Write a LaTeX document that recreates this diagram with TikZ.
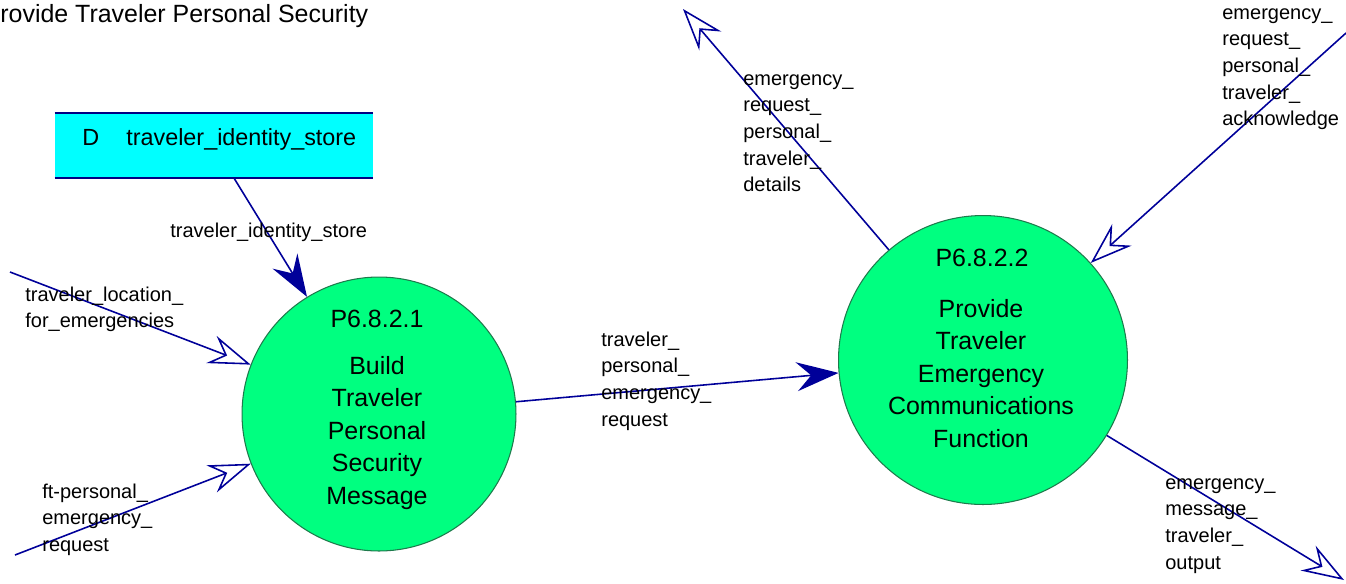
\documentclass[tikz,border=0pt]{standalone}
\usepackage{fontspec}
\setmainfont{Liberation Sans}
\usetikzlibrary{arrows.meta}
\definecolor{flowblue}{HTML}{000099}
\definecolor{procgreen}{HTML}{00FF80}
\definecolor{procedge}{HTML}{1E7A4C}
\definecolor{storecyan}{HTML}{00FFFF}
\newcommand{\bubblefont}{\fontsize{14.2pt}{18.55pt}\selectfont}
\newcommand{\flowfont}{\fontsize{11.38pt}{15.19pt}\selectfont}

\begin{document}
\begin{tikzpicture}[x=0.02cm, y=-0.02cm,
  proc/.style={circle, draw=procedge, fill=procgreen, line width=0.6pt, inner sep=0pt},
  procid/.style={anchor=base, inner sep=0pt, font=\bubblefont},
  proctext/.style={anchor=north, align=center, inner sep=0pt, font=\bubblefont},
  store/.style={fill=storecyan, minimum width=6.36cm, minimum height=1.3cm, inner sep=0pt},
  storeline/.style={draw=flowblue!85!black, line width=1pt},
  storetext/.style={anchor=base west, inner sep=0pt, font=\fontsize{13.3pt}{16pt}\selectfont},
  flowlabel/.style={anchor=north west, align=left, inner sep=0pt, font=\flowfont},
  flow/.style={flowblue, line width=0.9pt},
  openflow/.style={flow, -{Stealth[open, length=8.4mm, width=5.8mm, inset=2.9mm]}},
  >={Stealth[length=8.4mm, width=5.8mm, inset=2.9mm]}
]
\useasboundingbox (0,0) rectangle (1346,583);

\node[anchor=base west, inner sep=0pt, font=\bubblefont] (title) at (0,22) {rovide Traveler Personal Security};

\node[store] (store) at (214,145.5) {};
\draw[storeline] (store.north west) -- (store.north east);
\draw[storeline] (store.south west) -- (store.south east);
\node[storetext] (storeid) at (82,145) {D};
\node[storetext] (storename) at (126,145) {traveler\_identity\_store};

\node[proc, minimum size=5.48cm] (c1) at (379,414) {};
\node[procid] (c1id) at (377,327) {P6.8.2.1};
\node[proctext] (c1text) at (377,351) {\strut Build\\Traveler\\Personal\\Security\\Message};

\node[proc, minimum size=5.78cm] (c2) at (983,360) {};
\node[procid] (c2id) at (982,266) {P6.8.2.2};
\node[proctext] (c2text) at (981,294) {\strut Provide\\Traveler\\Emergency\\Communications\\Function};

\coordinate (locin) at (10,272);
\coordinate (ftin) at (15,555);
\coordinate (detout) at (683,9);
\coordinate (ackin) at (1346,33);
\coordinate (msgout) at (1344,580);

\draw[flow,->] (store) -- (c1);
\draw[openflow] (locin) -- (c1);
\draw[openflow] (ftin) -- (c1);
\draw[flow,->] (c1) -- (c2);
\draw[openflow] (c2) -- (detout);
\draw[openflow] (ackin) -- (c2);
\draw[openflow] (c2) -- (msgout);

\node[flowlabel, anchor=base west] (lstore) at (170,237) {traveler\_identity\_store};
\node[flowlabel] (lloc) at (25,282) {\strut traveler\_location\_\\for\_emergencies};
\node[flowlabel] (lft) at (42,479) {\strut ft-personal\_\\emergency\_\\request};
\node[flowlabel] (lreq) at (601,327) {\strut traveler\_\\personal\_\\emergency\_\\request};
\node[flowlabel] (ldet) at (743,66) {\strut emergency\_\\request\_\\personal\_\\traveler\_\\details};
\node[flowlabel] (lack) at (1222,0) {\strut emergency\_\\request\_\\personal\_\\traveler\_\\acknowledge};
\node[flowlabel] (lmsg) at (1165,470) {\strut emergency\_\\message\_\\traveler\_\\output};
\end{tikzpicture}
\end{document}
